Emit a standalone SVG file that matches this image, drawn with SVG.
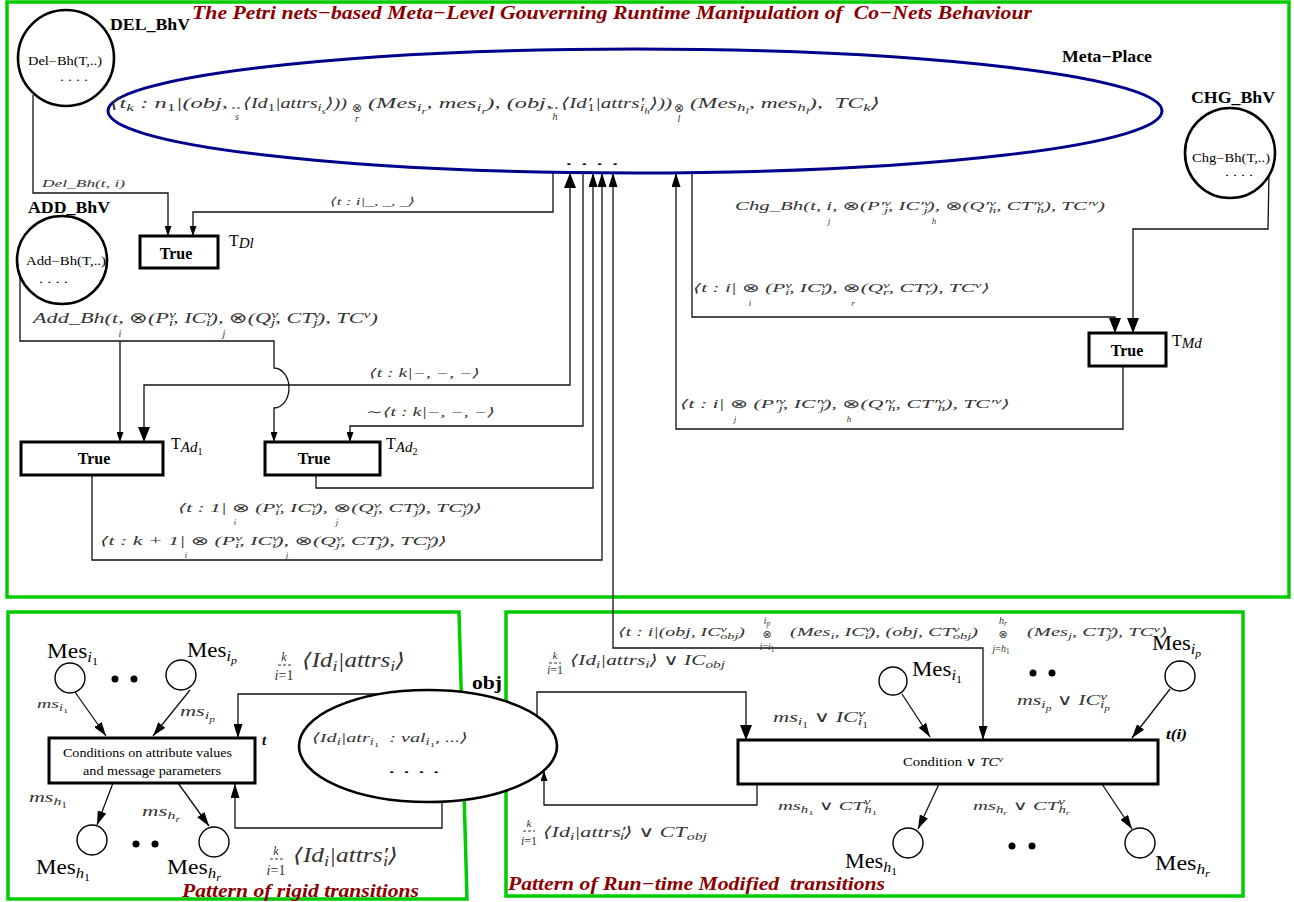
<svg xmlns="http://www.w3.org/2000/svg" width="1294" height="902" viewBox="0 0 1294 902">
<defs>
<style>
.fr{fill:none;stroke:#00cc00;stroke-width:3.5}
.ln{fill:none;stroke:#111;stroke-width:1.3}
.nd{fill:#fff;stroke:#000;stroke-width:2.6}
.pl{fill:#fff;stroke:#000;stroke-width:1.4}
.bx{fill:#fff;stroke:#000;stroke-width:3}
.dl{stroke:#333;stroke-width:1;stroke-dasharray:3 2}
text{font-family:"Liberation Serif","DejaVu Serif",serif;fill:#000}
.m{font-style:italic;fill:#333}
.i{font-style:italic}
.u{font-style:normal}
.b{font-size:72%;baseline-shift:-0.3em}
.p{font-size:72%;baseline-shift:0.5em}
.op{font-family:"DejaVu Sans",sans-serif;font-style:normal;fill:#333}
.bd{font-weight:bold}
.ti{font-weight:bold;font-style:italic;fill:#8b0000}
</style>
<marker id="as" viewBox="0 0 10 7" refX="10" refY="3.5" markerWidth="10" markerHeight="7" markerUnits="userSpaceOnUse" orient="auto-start-reverse"><path d="M0,0L10,3.5L0,7z"/></marker>
<marker id="am" viewBox="0 0 14 9" refX="14" refY="4.5" markerWidth="14" markerHeight="9" markerUnits="userSpaceOnUse" orient="auto-start-reverse"><path d="M0,0L14,4.5L0,9z"/></marker>
<marker id="al" viewBox="0 0 15 12" refX="15" refY="6" markerWidth="15" markerHeight="12" markerUnits="userSpaceOnUse" orient="auto-start-reverse"><path d="M0,0L15,6L0,12z"/></marker>
</defs>
<rect width="1294" height="902" fill="#fff"/>

<g id="frames">
<rect class="fr" x="7" y="2" width="1282" height="595"/>
<path class="fr" d="M8,612H459L467,899H8Z"/>
<rect class="fr" x="506" y="612" width="737" height="284"/>
</g>

<g id="connectors">
<path class="ln" d="M33,95V193H168V236" marker-end="url(#as)"/>
<path class="ln" d="M553,172V212H193V236" marker-end="url(#as)"/>
<path class="ln" d="M20,276V341H274V368A15,20 0 0 1 274,408V442" marker-end="url(#as)"/>
<path class="ln" d="M120,341V442" marker-end="url(#as)"/>
<path class="ln" d="M570,173V385H144V442" marker-start="url(#al)" marker-end="url(#al)"/>
<path class="ln" d="M583,172V426H350V442" marker-end="url(#as)"/>
<path class="ln" d="M316,475V488H593V173" marker-end="url(#am)"/>
<path class="ln" d="M92,475V560H602V173" marker-end="url(#am)"/>
<path class="ln" d="M983,740V648H613V173" marker-start="url(#am)" marker-end="url(#am)"/>
<path class="ln" d="M692,172V317H1115V333" marker-end="url(#al)"/>
<path class="ln" d="M1269,172L1268,229H1133V333" marker-end="url(#al)"/>
<path class="ln" d="M1123,366V429H676V173" marker-end="url(#am)"/>
<path class="ln" d="M75,692L106,736" marker-end="url(#am)"/>
<path class="ln" d="M190,690L153,736" marker-end="url(#am)"/>
<path class="ln" d="M113,783L97,825" marker-end="url(#am)"/>
<path class="ln" d="M178,783L209,826" marker-end="url(#am)"/>
<path class="ln" d="M420,694H238V738" marker-end="url(#am)"/>
<path class="ln" d="M442,790V828H235V784" marker-end="url(#am)"/>
<path class="ln" d="M537,740V692H746V740" marker-end="url(#al)"/>
<path class="ln" d="M757,784V805H544V771" marker-end="url(#as)"/>
<path class="ln" d="M902,694L930,737" marker-end="url(#am)"/>
<path class="ln" d="M1170,689L1132,738" marker-end="url(#am)"/>
<path class="ln" d="M939,784L918,829" marker-end="url(#am)"/>
<path class="ln" d="M1102,784L1132,829" marker-end="url(#am)"/>
</g>

<text class="ti" x="192" y="19" font-size="19" textLength="840" lengthAdjust="spacingAndGlyphs" xml:space="preserve">The Petri nets−based Meta−Level Gouverning Runtime Manipulation of  Co−Nets Behaviour</text>

<g id="meta-place">
<ellipse cx="635" cy="111" rx="527" ry="62" fill="#fff" stroke="#00008b" stroke-width="3"/>
<text class="bd" x="1062" y="62" font-size="16" textLength="90" lengthAdjust="spacingAndGlyphs">Meta−Place</text>
<text class="m" x="110" y="108" font-size="15" textLength="118" lengthAdjust="spacingAndGlyphs">⟨t<tspan class="b">k</tspan> : n<tspan class="b u">1</tspan>|(obj,</text>
<line class="dl" x1="232" y1="108" x2="242" y2="108"/>
<text class="m" x="237" y="120" font-size="10" text-anchor="middle">s</text>
<text class="m" x="243" y="108" font-size="15" textLength="104" lengthAdjust="spacingAndGlyphs">⟨Id<tspan class="b u">1</tspan>|attrs<tspan class="b">i<tspan class="b">s</tspan></tspan>⟩))</text>
<text class="op" x="357" y="112" font-size="12" text-anchor="middle">⊗</text>
<text class="m" x="357" y="122" font-size="10" text-anchor="middle">r</text>
<text class="m" x="368" y="108" font-size="15" textLength="184" lengthAdjust="spacingAndGlyphs">(Mes<tspan class="b">i<tspan class="b">r</tspan></tspan>, mes<tspan class="b">i<tspan class="b">r</tspan></tspan>), (obj,</text>
<line class="dl" x1="550" y1="108" x2="560" y2="108"/>
<text class="m" x="555" y="120" font-size="10" text-anchor="middle">h</text>
<text class="m" x="561" y="108" font-size="15" textLength="111" lengthAdjust="spacingAndGlyphs">⟨Id′<tspan class="b u" dx="-3">1</tspan>|attrs′<tspan class="b" dx="-3">i<tspan class="b">h</tspan></tspan>⟩))</text>
<text class="op" x="679" y="112" font-size="12" text-anchor="middle">⊗</text>
<text class="m" x="679" y="122" font-size="10" text-anchor="middle">l</text>
<text class="m" x="690" y="108" font-size="15" textLength="190" lengthAdjust="spacingAndGlyphs" xml:space="preserve">(Mes<tspan class="b">h<tspan class="b">l</tspan></tspan>, mes<tspan class="b">h<tspan class="b">l</tspan></tspan>),  TC<tspan class="b">k</tspan>⟩</text>
<text x="565" y="165" font-size="14" textLength="54" lengthAdjust="spacingAndGlyphs">. . . .</text>
</g>

<g id="del-bhv">
<circle class="nd" cx="66" cy="58" r="48"/>
<text x="28" y="65" font-size="12" textLength="74" lengthAdjust="spacingAndGlyphs">Del−Bh(T,..)</text>
<text x="60" y="81" font-size="12" textLength="28" lengthAdjust="spacingAndGlyphs">. . . .</text>
<text class="bd" x="110" y="30" font-size="16" textLength="80" lengthAdjust="spacingAndGlyphs">DEL_BhV</text>
</g>

<g id="add-bhv">
<ellipse class="nd" cx="62" cy="260" rx="45" ry="44"/>
<text x="26" y="265" font-size="12" textLength="80" lengthAdjust="spacingAndGlyphs">Add−Bh(T,..)</text>
<text x="39" y="283" font-size="12" textLength="29" lengthAdjust="spacingAndGlyphs">. . . .</text>
<text class="bd" x="28" y="213" font-size="16" textLength="82" lengthAdjust="spacingAndGlyphs">ADD_BhV</text>
</g>

<g id="chg-bhv">
<circle class="nd" cx="1230" cy="153" r="45"/>
<text x="1192" y="162" font-size="12" textLength="78" lengthAdjust="spacingAndGlyphs">Chg−Bh(T,..)</text>
<text x="1225" y="176" font-size="12" textLength="28" lengthAdjust="spacingAndGlyphs">. . . .</text>
<text class="bd" x="1191" y="103" font-size="16" textLength="84" lengthAdjust="spacingAndGlyphs">CHG_BhV</text>
</g>

<g id="t-dl">
<rect class="bx" x="140" y="236" width="78" height="32"/>
<text class="bd" x="176" y="259" font-size="16" text-anchor="middle">True</text>
<text x="229" y="246" font-size="16">T<tspan class="i" font-size="15" dy="2">Dl</tspan></text>
</g>

<g id="t-ad1">
<rect class="bx" x="21" y="442" width="142" height="33"/>
<text class="bd" x="94" y="464" font-size="16" text-anchor="middle">True</text>
<text x="171" y="449" font-size="16">T<tspan class="i" font-size="15" dy="3">Ad</tspan><tspan font-size="10" dy="3">1</tspan></text>
</g>

<g id="t-ad2">
<rect class="bx" x="265" y="442" width="115" height="33"/>
<text class="bd" x="314" y="464" font-size="16" text-anchor="middle">True</text>
<text x="386" y="449" font-size="16">T<tspan class="i" font-size="15" dy="3">Ad</tspan><tspan font-size="10" dy="3">2</tspan></text>
</g>

<g id="t-md">
<rect class="bx" x="1089" y="333" width="77" height="33"/>
<text class="bd" x="1127" y="356" font-size="16" text-anchor="middle">True</text>
<text x="1172" y="346" font-size="16">T<tspan class="i" font-size="15" dy="2">Md</tspan></text>
</g>

<g id="labels-top">
<text class="m" x="42" y="187" font-size="11" textLength="83" lengthAdjust="spacingAndGlyphs">Del_Bh(t, i)</text>
<text class="m" x="330" y="205" font-size="11" textLength="85" lengthAdjust="spacingAndGlyphs">⟨t : i|_, _, _⟩</text>
<text class="m" x="33" y="323" font-size="15" textLength="345" lengthAdjust="spacingAndGlyphs">Add_Bh(t, <tspan class="op">⊗</tspan>(P<tspan class="p">v</tspan><tspan class="b" dx="-5">i</tspan>, IC<tspan class="p">v</tspan><tspan class="b" dx="-5">i</tspan>), <tspan class="op">⊗</tspan>(Q<tspan class="p">v</tspan><tspan class="b" dx="-5">j</tspan>, CT<tspan class="p">v</tspan><tspan class="b" dx="-5">j</tspan>), TC<tspan class="p">v</tspan>)</text>
<text class="m" x="120" y="337" font-size="10" text-anchor="middle">i</text>
<text class="m" x="224" y="337" font-size="10" text-anchor="middle">j</text>
<text class="m" x="369" y="377" font-size="12" textLength="111" lengthAdjust="spacingAndGlyphs">⟨t : k|−, −, −⟩</text>
<text class="m" x="366" y="416" font-size="12" textLength="129" lengthAdjust="spacingAndGlyphs">∼⟨t : k|−, −, −⟩</text>
<text class="m" x="178" y="512" font-size="12" textLength="304" lengthAdjust="spacingAndGlyphs">⟨t : 1| <tspan class="op">⊗</tspan> (P<tspan class="p">v</tspan><tspan class="b" dx="-4">i</tspan>, IC<tspan class="p">v</tspan><tspan class="b" dx="-4">i</tspan>), <tspan class="op">⊗</tspan>(Q<tspan class="p">v</tspan><tspan class="b" dx="-4">j</tspan>, CT<tspan class="p">v</tspan><tspan class="b" dx="-4">j</tspan>), TC<tspan class="p">v</tspan><tspan class="b" dx="-4">j</tspan>)⟩</text>
<text class="m" x="235" y="525" font-size="9" text-anchor="middle">i</text>
<text class="m" x="337" y="525" font-size="9" text-anchor="middle">j</text>
<text class="m" x="100" y="545" font-size="12" textLength="347" lengthAdjust="spacingAndGlyphs">⟨t : k + 1| <tspan class="op">⊗</tspan> (P<tspan class="p">v</tspan><tspan class="b" dx="-4">i</tspan>, IC<tspan class="p">v</tspan><tspan class="b" dx="-4">i</tspan>), <tspan class="op">⊗</tspan>(Q<tspan class="p">v</tspan><tspan class="b" dx="-4">j</tspan>, CT<tspan class="p">v</tspan><tspan class="b" dx="-4">j</tspan>), TC<tspan class="p">v</tspan><tspan class="b" dx="-4">j</tspan>)⟩</text>
<text class="m" x="186" y="558" font-size="9" text-anchor="middle">i</text>
<text class="m" x="287" y="558" font-size="9" text-anchor="middle">j</text>
<text class="m" x="735" y="210" font-size="12" textLength="370" lengthAdjust="spacingAndGlyphs">Chg_Bh(t, i, <tspan class="op">⊗</tspan>(P′<tspan class="p">v</tspan><tspan class="b" dx="-4">j</tspan>, IC′<tspan class="p">v</tspan><tspan class="b" dx="-4">j</tspan>), <tspan class="op">⊗</tspan>(Q′<tspan class="p">v</tspan><tspan class="b" dx="-4">h</tspan>, CT′<tspan class="p">v</tspan><tspan class="b" dx="-4">h</tspan>), TC′<tspan class="p">v</tspan>)</text>
<text class="m" x="829" y="224" font-size="9" text-anchor="middle">j</text>
<text class="m" x="934" y="224" font-size="9" text-anchor="middle">h</text>
<text class="m" x="693" y="292" font-size="12" textLength="297" lengthAdjust="spacingAndGlyphs">⟨t : i| <tspan class="op">⊗</tspan> (P<tspan class="p">v</tspan><tspan class="b" dx="-4">i</tspan>, IC<tspan class="p">v</tspan><tspan class="b" dx="-4">i</tspan>), <tspan class="op">⊗</tspan>(Q<tspan class="p">v</tspan><tspan class="b" dx="-4">r</tspan>, CT<tspan class="p">v</tspan><tspan class="b" dx="-4">r</tspan>), TC<tspan class="p">v</tspan>⟩</text>
<text class="m" x="750" y="306" font-size="9" text-anchor="middle">i</text>
<text class="m" x="853" y="306" font-size="9" text-anchor="middle">r</text>
<text class="m" x="680" y="408" font-size="12" textLength="330" lengthAdjust="spacingAndGlyphs">⟨t : i| <tspan class="op">⊗</tspan> (P′<tspan class="p">v</tspan><tspan class="b" dx="-4">j</tspan>, IC′<tspan class="p">v</tspan><tspan class="b" dx="-4">j</tspan>), <tspan class="op">⊗</tspan>(Q′<tspan class="p">v</tspan><tspan class="b" dx="-4">h</tspan>, CT′<tspan class="p">v</tspan><tspan class="b" dx="-4">h</tspan>), TC′<tspan class="p">v</tspan>⟩</text>
<text class="m" x="735" y="422" font-size="9" text-anchor="middle">j</text>
<text class="m" x="849" y="422" font-size="9" text-anchor="middle">h</text>
</g>

<g id="rigid-pattern">
<g id="mes-i1-l">
<circle class="pl" cx="70" cy="678" r="15"/>
<text x="47" y="658" font-size="20" textLength="51" lengthAdjust="spacingAndGlyphs">Mes<tspan class="b i">i<tspan class="b u">1</tspan></tspan></text>
</g>
<g id="mes-ip-l">
<circle class="pl" cx="181" cy="675" r="15"/>
<text x="187" y="657" font-size="20" textLength="50" lengthAdjust="spacingAndGlyphs">Mes<tspan class="b i">i<tspan class="b">p</tspan></tspan></text>
</g>
<g id="mes-h1-l">
<circle class="pl" cx="92" cy="840" r="15"/>
<text x="36" y="874" font-size="20" textLength="54" lengthAdjust="spacingAndGlyphs">Mes<tspan class="b i">h<tspan class="b u">1</tspan></tspan></text>
</g>
<g id="mes-hr-l">
<circle class="pl" cx="214" cy="842" r="15"/>
<text x="167" y="874" font-size="20" textLength="54" lengthAdjust="spacingAndGlyphs">Mes<tspan class="b i">h<tspan class="b">r</tspan></tspan></text>
</g>
<circle cx="115" cy="679" r="3.5"/><circle cx="134" cy="679" r="3.5"/>
<circle cx="136" cy="844" r="3.5"/><circle cx="155" cy="844" r="3.5"/>
<g id="t-rigid">
<rect class="bx" x="49" y="738" width="206" height="45"/>
<text x="63" y="757" font-size="13" textLength="169" lengthAdjust="spacingAndGlyphs">Conditions on attribute values</text>
<text x="83" y="775" font-size="13" textLength="138" lengthAdjust="spacingAndGlyphs">and message parameters</text>
<text class="bd i" x="262" y="745" font-size="15">t</text>
</g>
<text class="m" x="37" y="708" font-size="13" textLength="31" lengthAdjust="spacingAndGlyphs">ms<tspan class="b">i<tspan class="b u">1</tspan></tspan></text>
<text class="m" x="180" y="716" font-size="15" textLength="35" lengthAdjust="spacingAndGlyphs">ms<tspan class="b">i<tspan class="b">p</tspan></tspan></text>
<text class="m" x="29" y="802" font-size="15" textLength="38" lengthAdjust="spacingAndGlyphs">ms<tspan class="b">h<tspan class="b u">1</tspan></tspan></text>
<text class="m" x="142" y="816" font-size="15" textLength="38" lengthAdjust="spacingAndGlyphs">ms<tspan class="b">h<tspan class="b">r</tspan></tspan></text>
<text class="m" x="284" y="661" font-size="12" text-anchor="middle">k</text>
<line class="dl" x1="278" y1="665" x2="291" y2="665"/>
<text class="m" x="284" y="680" font-size="14" text-anchor="middle">i<tspan class="u">=1</tspan></text>
<text class="m" x="302" y="667" font-size="20" textLength="103" lengthAdjust="spacingAndGlyphs">⟨Id<tspan class="b">i</tspan>|attrs<tspan class="b">i</tspan>⟩</text>
<text class="m" x="276" y="855" font-size="12" text-anchor="middle">k</text>
<line class="dl" x1="270" y1="859" x2="283" y2="859"/>
<text class="m" x="276" y="875" font-size="14" text-anchor="middle">i<tspan class="u">=1</tspan></text>
<text class="m" x="293" y="862" font-size="20" textLength="105" lengthAdjust="spacingAndGlyphs">⟨Id<tspan class="b">i</tspan>|attrs′<tspan class="b" dx="-4">i</tspan>⟩</text>
<text class="ti" x="182" y="897" font-size="19" textLength="237" lengthAdjust="spacingAndGlyphs">Pattern of rigid transitions</text>
</g>

<g id="obj">
<ellipse class="nd" cx="428" cy="746" rx="129" ry="56"/>
<text class="m" x="312" y="742" font-size="13" textLength="156" lengthAdjust="spacingAndGlyphs" xml:space="preserve">⟨Id<tspan class="b">i</tspan>|atr<tspan class="b">i<tspan class="b u">1</tspan></tspan>  : val<tspan class="b">i<tspan class="b u">1</tspan></tspan>, ...⟩</text>
<text x="388" y="773" font-size="14" textLength="52" lengthAdjust="spacingAndGlyphs">. . . .</text>
<text class="bd" x="472" y="689" font-size="19" textLength="30" lengthAdjust="spacingAndGlyphs">obj</text>
</g>

<g id="runtime-pattern">
<text class="m" x="618" y="636" font-size="12" textLength="127" lengthAdjust="spacingAndGlyphs">⟨t : i|(obj, IC<tspan class="p">v</tspan><tspan class="b" dx="-4">obj</tspan>)</text>
<text class="op" x="767" y="638" font-size="11" text-anchor="middle">⊗</text>
<text class="m" x="767" y="624" font-size="10" text-anchor="middle">i<tspan class="b">p</tspan></text>
<text class="m" x="767" y="650" font-size="10" text-anchor="middle">i<tspan class="u">=</tspan>i<tspan class="b u">1</tspan></text>
<text class="m" x="790" y="636" font-size="12" textLength="188" lengthAdjust="spacingAndGlyphs">(Mes<tspan class="b">i</tspan>, IC<tspan class="p">v</tspan><tspan class="b" dx="-4">i</tspan>), (obj, CT<tspan class="p">v</tspan><tspan class="b" dx="-4">obj</tspan>)</text>
<text class="op" x="1003" y="638" font-size="11" text-anchor="middle">⊗</text>
<text class="m" x="1003" y="624" font-size="10" text-anchor="middle">h<tspan class="b">r</tspan></text>
<text class="m" x="1001" y="652" font-size="10" text-anchor="middle">j<tspan class="u">=</tspan>h<tspan class="b u">1</tspan></text>
<text class="m" x="1027" y="636" font-size="12" textLength="141" lengthAdjust="spacingAndGlyphs">(Mes<tspan class="b">j</tspan>, CT<tspan class="p">v</tspan><tspan class="b" dx="-4">j</tspan>), TC<tspan class="p">v</tspan>⟩</text>
<text class="m" x="555" y="659" font-size="11" text-anchor="middle">k</text>
<line class="dl" x1="549" y1="663" x2="561" y2="663"/>
<text class="m" x="555" y="674" font-size="12" text-anchor="middle">i<tspan class="u">=1</tspan></text>
<text class="m" x="570" y="665" font-size="15" textLength="155" lengthAdjust="spacingAndGlyphs">⟨Id<tspan class="b">i</tspan>|attrs<tspan class="b">i</tspan>⟩ ∨ IC<tspan class="b">obj</tspan></text>
<text class="m" x="529" y="827" font-size="11" text-anchor="middle">k</text>
<line class="dl" x1="523" y1="831" x2="535" y2="831"/>
<text class="m" x="529" y="845" font-size="12" text-anchor="middle">i<tspan class="u">=1</tspan></text>
<text class="m" x="543" y="837" font-size="15" textLength="164" lengthAdjust="spacingAndGlyphs">⟨Id<tspan class="b">i</tspan>|attrs′<tspan class="b" dx="-4">i</tspan>⟩ ∨ CT<tspan class="b">obj</tspan></text>
<g id="t-i">
<rect class="bx" x="738" y="740" width="420" height="44"/>
<text x="903" y="766" font-size="12" textLength="100" lengthAdjust="spacingAndGlyphs">Condition <tspan class="i">∨ TC<tspan class="p">v</tspan></tspan></text>
<text class="bd i" x="1166" y="739" font-size="15" textLength="21" lengthAdjust="spacingAndGlyphs">t(i)</text>
</g>
<g id="mes-i1-r">
<circle class="pl" cx="893" cy="681" r="14"/>
<text x="912" y="676" font-size="20" textLength="50" lengthAdjust="spacingAndGlyphs">Mes<tspan class="b i">i<tspan class="b u">1</tspan></tspan></text>
</g>
<g id="mes-ip-r">
<circle class="pl" cx="1180" cy="676" r="15"/>
<text x="1152" y="650" font-size="20" textLength="49" lengthAdjust="spacingAndGlyphs">Mes<tspan class="b i">i<tspan class="b">p</tspan></tspan></text>
</g>
<g id="mes-h1-r">
<circle class="pl" cx="908" cy="843" r="15"/>
<text x="845" y="868" font-size="20" textLength="52" lengthAdjust="spacingAndGlyphs">Mes<tspan class="b i">h<tspan class="b u">1</tspan></tspan></text>
</g>
<g id="mes-hr-r">
<circle class="pl" cx="1140" cy="843" r="15"/>
<text x="1155" y="870" font-size="20" textLength="55" lengthAdjust="spacingAndGlyphs">Mes<tspan class="b i">h<tspan class="b">r</tspan></tspan></text>
</g>
<circle cx="1033" cy="673" r="3.5"/><circle cx="1052" cy="673" r="3.5"/>
<circle cx="1012" cy="846" r="3.5"/><circle cx="1032" cy="846" r="3.5"/>
<text class="m" x="773" y="722" font-size="15" textLength="95" lengthAdjust="spacingAndGlyphs">ms<tspan class="b">i<tspan class="b u">1</tspan></tspan> ∨ IC<tspan class="p">v</tspan><tspan class="b" dx="-5">i<tspan class="b u">1</tspan></tspan></text>
<text class="m" x="1017" y="705" font-size="15" textLength="93" lengthAdjust="spacingAndGlyphs">ms<tspan class="b">i<tspan class="b">p</tspan></tspan> ∨ IC<tspan class="p">v</tspan><tspan class="b" dx="-5">i<tspan class="b">p</tspan></tspan></text>
<text class="m" x="778" y="810" font-size="13" textLength="99" lengthAdjust="spacingAndGlyphs">ms<tspan class="b">h<tspan class="b u">1</tspan></tspan> ∨ CT<tspan class="p">v</tspan><tspan class="b" dx="-4">h<tspan class="b u">1</tspan></tspan></text>
<text class="m" x="973" y="810" font-size="13" textLength="97" lengthAdjust="spacingAndGlyphs">ms<tspan class="b">h<tspan class="b">r</tspan></tspan> ∨ CT<tspan class="p">v</tspan><tspan class="b" dx="-4">h<tspan class="b">r</tspan></tspan></text>
<text class="ti" x="508" y="890" font-size="19" textLength="377" lengthAdjust="spacingAndGlyphs" xml:space="preserve">Pattern of Run−time Modified  transitions</text>
</g>
</svg>
